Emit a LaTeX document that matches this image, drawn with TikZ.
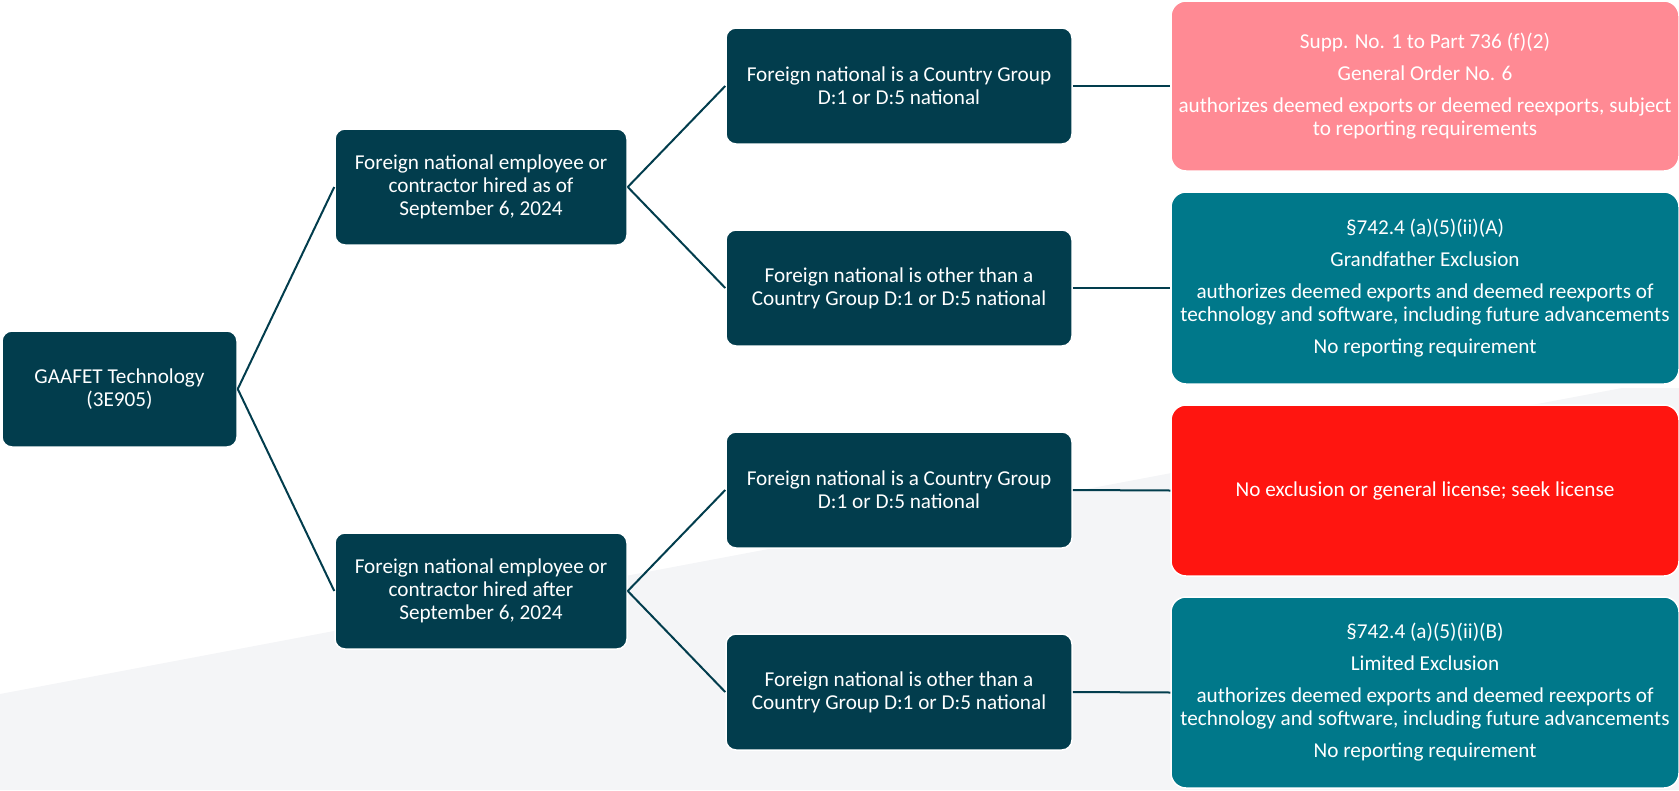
\documentclass[tikz,border=0pt]{standalone}
\usepackage{fontspec}
\setmainfont{Carlito}
\definecolor{darkbox}{RGB}{2,61,77}
\definecolor{tealbox}{RGB}{0,120,138}
\definecolor{pinkbox}{RGB}{255,138,148}
\definecolor{redbox}{RGB}{255,21,16}
\definecolor{bggray}{RGB}{244,245,247}
\begin{document}
\begin{tikzpicture}[x=1pt,y=-1pt,
  every node/.style={font=\fontsize{21.2}{23}\selectfont, text=white, align=center, inner sep=0pt},
  darknode/.style={fill=darkbox, draw=white, line width=1.5pt, rounded corners=10pt},
  resnode/.style={draw=white, line width=1.5pt, rounded corners=15pt, minimum width=508pt},
  conn/.style={draw=darkbox, line width=2pt}]
\useasboundingbox (0,0) rectangle (1679,790);
\fill[bggray] (0,694) -- (1622,388) -- (1679,388) -- (1679,790) -- (0,790) -- cycle;

\node[darknode, minimum width=235pt, minimum height=116pt] (root) at (119.5,389) {GAAFET Technology\\(3E905)};

\node[darknode, minimum width=292pt, minimum height=116pt] (mid1) at (481,187) {Foreign national employee or\\contractor hired as of\\September 6, 2024};
\node[darknode, minimum width=292pt, minimum height=116pt] (mid2) at (481,591) {Foreign national employee or\\contractor hired after\\September 6, 2024};

\node[darknode, minimum width=346pt, minimum height=116pt] (leaf1) at (899,86) {Foreign national is a Country Group\\D:1 or D:5 national};
\node[darknode, minimum width=346pt, minimum height=116pt] (leaf2) at (899,288) {Foreign national is other than a\\Country Group D:1 or D:5 national};
\node[darknode, minimum width=346pt, minimum height=116pt] (leaf3) at (899,490) {Foreign national is a Country Group\\D:1 or D:5 national};
\node[darknode, minimum width=346pt, minimum height=116pt] (leaf4) at (899,692) {Foreign national is other than a\\Country Group D:1 or D:5 national};

\node[resnode, fill=pinkbox, minimum height=170pt] (res1) at (1425,86) {Supp. No. 1 to Part 736 (f)(2)\\[9pt]General Order No. 6\\[9pt]authorizes deemed exports or deemed reexports, subject\\to reporting requirements};
\node[resnode, fill=tealbox, minimum height=192pt] (res2) at (1425,288) {§742.4 (a)(5)(ii)(A)\\[9pt]Grandfather Exclusion\\[9pt]authorizes deemed exports and deemed reexports of\\technology and software, including future advancements\\[9pt]No reporting requirement};
\node[resnode, fill=redbox, minimum height=171pt] (res3) at (1425,490.5) {No exclusion or general license; seek license};
\node[resnode, fill=tealbox, minimum height=191pt] (res4) at (1425,692.5) {§742.4 (a)(5)(ii)(B)\\[9pt]Limited Exclusion\\[9pt]authorizes deemed exports and deemed reexports of\\technology and software, including future advancements\\[9pt]No reporting requirement};

\draw[conn] (root.east) -- (mid1.west);
\draw[conn] (root.east) -- (mid2.west);
\draw[conn] (mid1.east) -- (leaf1.west);
\draw[conn] (mid1.east) -- (leaf2.west);
\draw[conn] (mid2.east) -- (leaf3.west);
\draw[conn] (mid2.east) -- (leaf4.west);
\draw[conn] (leaf1.east) -- (res1.west);
\draw[conn] (leaf2.east) -- (res2.west);
\draw[conn] (leaf3.east) -- (res3.west);
\draw[conn] (leaf4.east) -- (res4.west);
\end{tikzpicture}
\end{document}
